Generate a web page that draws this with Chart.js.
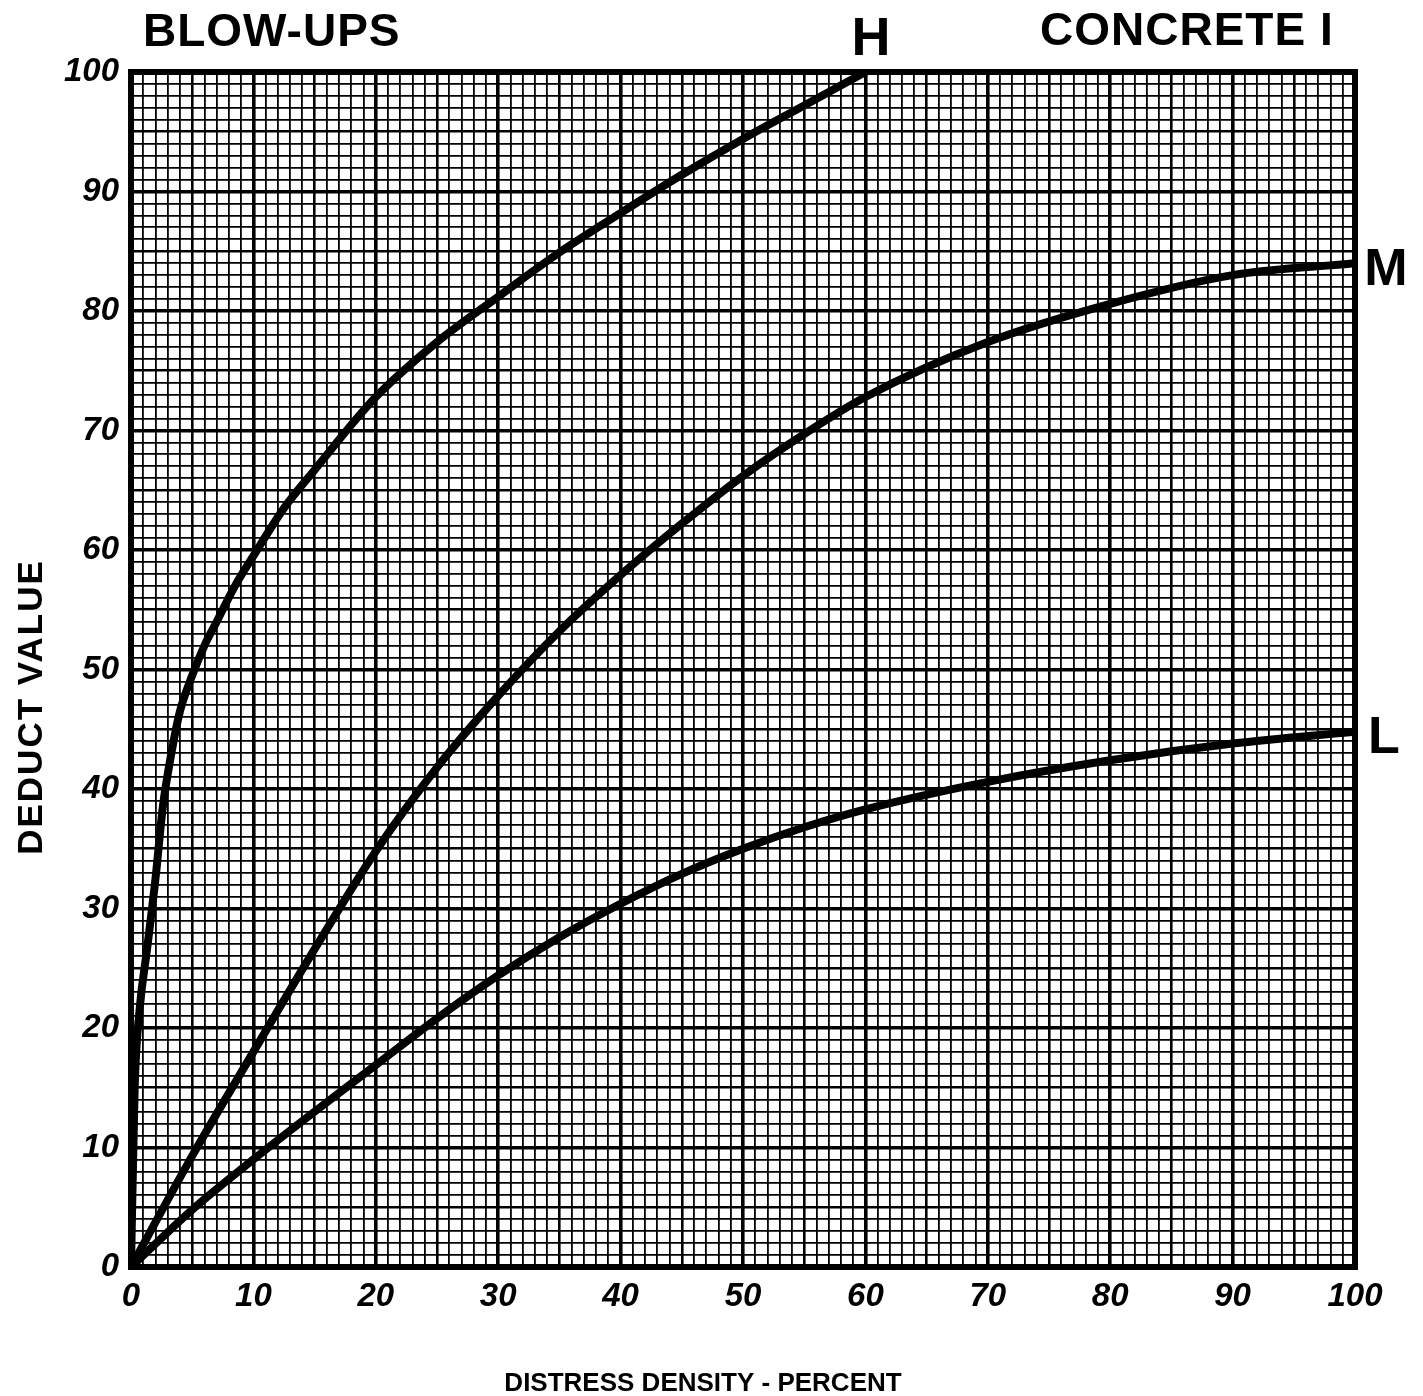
<!DOCTYPE html>
<html>
<head>
<meta charset="utf-8">
<title>Blow-ups - Concrete I</title>
<script src="https://cdn.jsdelivr.net/npm/chart.js@4.4.1/dist/chart.umd.min.js"></script>
<style>
  html, body { margin: 0; padding: 0; background: #fff; }
  #wrap { width: 1423px; height: 1396px; position: relative; }
</style>
</head>
<body>
<div id="wrap"><canvas id="dvChart" width="1423" height="1396"></canvas></div>
<script>
// deduct value curves, by severity level
const densityH = [0, 0.3, 0.7, 1.3, 2, 2.6, 3.3, 4, 5, 6, 7, 8.5, 10, 12.5, 15, 20, 25, 30, 35, 40, 45, 50, 55, 60];
const deductH = [0, 15, 21.5, 26.5, 32.5, 38.5, 43, 46.5, 49.5, 52, 54, 57, 59.5, 63.5, 66.7, 72.8, 77.4, 81.2, 84.9, 88.2, 91.4, 94.4, 97.2, 100];

const densityM = [0, 5, 10, 15, 20, 25, 30, 35, 40, 45, 50, 55, 60, 70, 80, 90, 100];
const deductM = [0, 9.3, 18, 26.6, 34.8, 41.8, 47.8, 53.2, 57.9, 62.2, 66.2, 69.7, 72.8, 77.4, 80.6, 83, 84];

const densityL = [0, 5, 10, 15, 20, 25, 30, 35, 40, 45, 50, 55, 60, 70, 80, 90, 100];
const deductL = [0, 4.8, 9, 13, 16.9, 20.8, 24.4, 27.6, 30.4, 32.9, 35, 36.8, 38.3, 40.6, 42.4, 43.8, 44.8];

const xTickLabels = ["0", "10", "20", "30", "40", "50", "60", "70", "80", "90", "100"];
const yTickLabels = ["0", "10", "20", "30", "40", "50", "60", "70", "80", "90", "100"];

const toPoints = (xs, ys) => xs.map((x, i) => ({ x: x, y: ys[i] }));

const tickFont = { family: "'Liberation Sans', Arial, sans-serif", size: 33, weight: "bold", style: "italic" };

function gridWidth(c) {
  if (!c.tick) return 1.8;
  const v = Math.round(c.tick.value);
  if (v % 10 === 0) return 3.6;
  if (v % 5 === 0) return 2.6;
  return 1.8;
}

// titles, curve letters and the heavy frame round the plot
const frameAndText = {
  id: "frameAndText",
  afterDatasetsDraw(chart) {
    const { ctx, chartArea: a } = chart;
    ctx.save();
    ctx.strokeStyle = "#000";
    ctx.lineWidth = 6;
    ctx.strokeRect(a.left, a.top, a.right - a.left, a.bottom - a.top);

    ctx.fillStyle = "#000";
    ctx.textBaseline = "middle";
    ctx.textAlign = "left";
    ctx.font = "bold 46px 'Liberation Sans', Arial, sans-serif";
    ctx.letterSpacing = "1px";
    ctx.fillText("BLOW-UPS", 143, 33);
    ctx.fillText("CONCRETE I", 1040, 32);
    ctx.letterSpacing = "0px";

    ctx.textAlign = "center";
    ctx.font = "bold 54px 'Liberation Sans', Arial, sans-serif";
    ctx.fillText("H", 871, 40);
    ctx.font = "bold 52px 'Liberation Sans', Arial, sans-serif";
    ctx.fillText("M", 1386, 271);
    ctx.fillText("L", 1384, 739);

    ctx.font = "bold 26px 'Liberation Sans', Arial, sans-serif";
    ctx.textBaseline = "alphabetic";
    ctx.fillText("DISTRESS DENSITY - PERCENT", 703, 1391);

    ctx.translate(32, 707);
    ctx.rotate(-Math.PI / 2);
    ctx.textBaseline = "middle";
    ctx.font = "bold 35px 'Liberation Sans', Arial, sans-serif";
    ctx.letterSpacing = "2px";
    ctx.fillText("DEDUCT VALUE", 0, 0);
    ctx.restore();
  }
};

const curveStyle = {
  borderColor: "#000",
  borderWidth: 8,
  pointRadius: 0,
  fill: false,
  cubicInterpolationMode: "monotone",
  borderCapStyle: "round",
  borderJoinStyle: "round"
};

const ctx = document.getElementById("dvChart").getContext("2d");
const dvChart = new Chart(ctx, {
  type: "line",
  data: {
    datasets: [
      Object.assign({ label: "H", data: toPoints(densityH, deductH) }, curveStyle),
      Object.assign({ label: "M", data: toPoints(densityM, deductM) }, curveStyle),
      Object.assign({ label: "L", data: toPoints(densityL, deductL) }, curveStyle),
    ],
  },
  options: {
    responsive: false,
    animation: false,
    layout: { padding: { left: 0, top: 72, right: 68, bottom: 0 } },
    scales: {
      x: {
        type: "linear",
        min: 0,
        max: 100,
        afterFit: (s) => { s.height = 129; },
        ticks: {
          stepSize: 1,
          maxTicksLimit: 200,
          autoSkip: false,
          maxRotation: 0,
          padding: 10,
          color: "#000",
          font: tickFont,
          callback: (v) => (v % 10 === 0 ? xTickLabels[v / 10] : ""),
        },
        grid: { color: "#000", lineWidth: gridWidth, drawTicks: false },
        border: { display: false },
      },
      y: {
        min: 0,
        max: 100,
        afterFit: (s) => { s.width = 131; },
        ticks: {
          stepSize: 1,
          maxTicksLimit: 200,
          autoSkip: false,
          padding: 12,
          color: "#000",
          font: tickFont,
          callback: (v) => (v % 10 === 0 ? yTickLabels[v / 10] : ""),
        },
        grid: { color: "#000", lineWidth: gridWidth, drawTicks: false },
        border: { display: false },
      },
    },
    plugins: {
      legend: { display: false },
      tooltip: { enabled: false },
    },
  },
  plugins: [frameAndText],
});
</script>
</body>
</html>
